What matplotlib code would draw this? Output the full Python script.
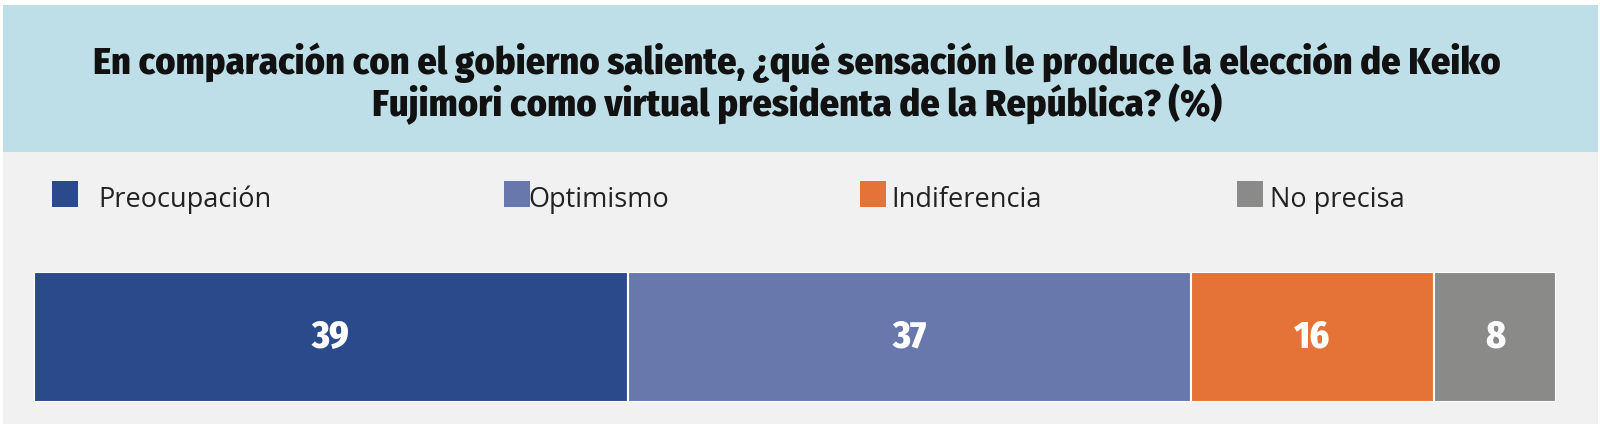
import matplotlib
matplotlib.use('Agg')
import matplotlib.pyplot as plt
from matplotlib.patches import Rectangle

# data
categories = ['Preocupación', 'Optimismo', 'Indiferencia', 'No precisa']
values = [39, 37, 16, 8]
colors = ['#2a4a8b', '#6878ad', '#e57236', '#8a8a88']
title = ('En comparación con el gobierno saliente, ¿qué sensación le produce la elección de Keiko\n'
         'Fujimori como virtual presidenta de la República? (%)')

cond_font = ['Fira Sans Condensed', 'Roboto Condensed', 'Liberation Sans Narrow', 'DejaVu Sans']
body_font = ['Open Sans', 'DejaVu Sans']

W, H = 1600, 428
fig = plt.figure(figsize=(W / 100, H / 100), dpi=100)
fig.patch.set_facecolor('white')


def px(x, y, w, h):
    # pixel box (top-left origin) -> figure fraction
    return (x / W, 1 - (y + h) / H, w / W, h / H)


for box, col in [((3, 5, 1595, 147), '#bedfe7'), ((3, 152, 1595, 272), '#f1f1f1')]:
    x0, y0, w0, h0 = px(*box)
    fig.patches.append(Rectangle((x0, y0), w0, h0, transform=fig.transFigure,
                                 facecolor=col, edgecolor='none', zorder=0))

fig.text(797 / W, 1 - 84 / H, title, ha='center', va='center', fontsize=27.5,
         fontweight='heavy', family=cond_font, color='#111111',
         linespacing=1.0)

# legend
leg_x = [52, 504, 860, 1237]
text_x = [98, 528, 891, 1270]
for cat, col, lx, tx in zip(categories, colors, leg_x, text_x):
    fig.patches.append(Rectangle((lx / W, 1 - 207 / H), 26 / W, 26 / H,
                                 transform=fig.transFigure, facecolor=col,
                                 edgecolor='none', zorder=1))
    fig.text(tx / W, 1 - 200 / H, cat, ha='left', va='center', fontsize=19.5,
             family=body_font, color='#222222')

# stacked bar
ax = fig.add_axes(px(34, 272, 1522, 130), zorder=5)
ax.patch.set_alpha(0)
left = 0
for v, col in zip(values, colors):
    ax.barh(0, v, left=left, height=1, color=col, edgecolor='white', linewidth=1.5)
    ax.text(left + v / 2, 0, str(v), ha='center', va='center', color='white',
            fontsize=27, fontweight='heavy', family=cond_font)
    left += v
ax.set_xlim(0, sum(values))
ax.set_ylim(-0.5, 0.5)
ax.axis('off')

fig.savefig('out.png', dpi=100, facecolor=fig.get_facecolor())
